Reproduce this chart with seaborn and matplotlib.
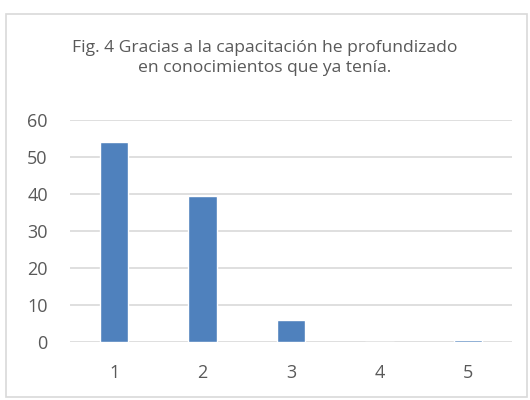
import matplotlib
matplotlib.use("Agg")
import matplotlib.pyplot as plt
import seaborn as sns
import pandas as pd
from matplotlib.patches import Rectangle

# Datos de la figura
categorias = ["1", "2", "3", "4", "5"]
valores = [54, 39.5, 6, 0, 0.5]
titulo = "Fig. 4 Gracias a la capacitación he profundizado\nen conocimientos que ya tenía."

df = pd.DataFrame({"Respuesta": categorias, "Porcentaje": valores})

sns.set_theme(style="white")
plt.rcParams["font.family"] = ["Open Sans", "DejaVu Sans"]

W, H = 530, 400
fig = plt.figure(figsize=(W / 100, H / 100), dpi=100)
ax = fig.add_axes([70 / W, 58 / H, 442 / W, 222 / H])

sns.barplot(data=df, x="Respuesta", y="Porcentaje", color="#4f81bd",
            saturation=1, width=0.32, ax=ax, zorder=3)

ax.set_ylim(0, 60)
ax.set_yticks(range(0, 61, 10))
ax.set_xlim(-0.5, 4.5)
ax.grid(axis="y", color="#d9d9d9", linewidth=1.2, zorder=0)
ax.set_axisbelow(True)
for s in ax.spines.values():
    s.set_visible(False)
ax.set_xlabel("")
ax.set_ylabel("")
ax.tick_params(axis="both", length=0, labelsize=13, labelcolor="#595959")
ax.tick_params(axis="x", pad=16)
ax.tick_params(axis="y", pad=16)

fig.text(0.5, 1 - 58 / H, titulo, ha="center", va="center",
         fontsize=12.6, color="#595959", linespacing=1.3)

fig.patches.append(Rectangle((6 / W, 3 / H), 521 / W, 383 / H,
                             transform=fig.transFigure, fill=False,
                             edgecolor="#d9d9d9", linewidth=1.2))

fig.savefig("out.png", dpi=100)
